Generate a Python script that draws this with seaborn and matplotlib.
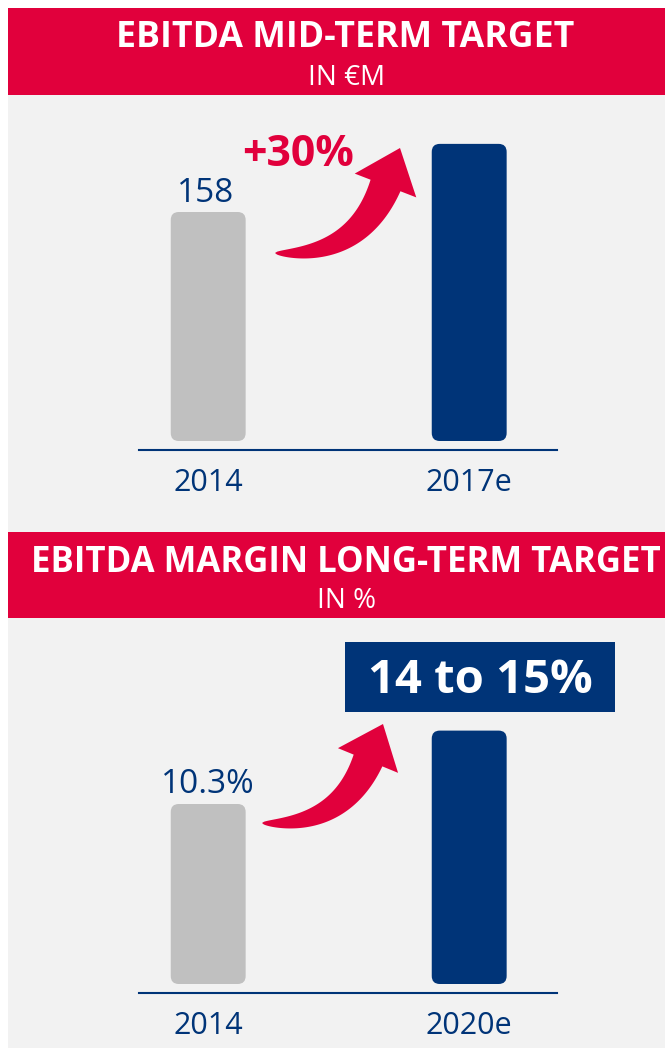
import numpy as np
import matplotlib.pyplot as plt
import seaborn as sns
from matplotlib.patches import FancyBboxPatch, Rectangle, Polygon

# --- data -------------------------------------------------------------
years_mid = ["2014", "2017e"]
ebitda_mid = [158, 205]            # EUR m (2017e = 2014 +30%)
years_long = ["2014", "2020e"]
margin_long = [10.3, 14.5]         # % (target 14 to 15%)
value_label_mid = "158"
value_label_long = "10.3%"
growth_label = "+30%"
target_label = "14 to 15%"
titles = ["EBITDA MID-TERM TARGET", "EBITDA MARGIN LONG-TERM TARGET"]
subtitles = ["IN €M", "IN %"]

RED = "#E1003C"
NAVY = "#003478"
GRAY = "#C0C0C0"
BG = "#F2F2F2"

W, H = 665, 1048

sns.set_style("white")
plt.rcParams["font.family"] = ["Open Sans", "DejaVu Sans"]

fig = plt.figure(figsize=(W / 100, H / 100), dpi=100)
fig.patch.set_facecolor("white")

# overlay axes in pixel coordinates (bands, arrows, callouts)
bg = fig.add_axes([0, 0, 1, 1], zorder=0)
bg.set_xlim(0, W)
bg.set_ylim(H, 0)
bg.axis("off")
bg.add_patch(Rectangle((8, 95), W - 8, H - 95, color=BG, lw=0))

# (band top, band height, title baseline, subtitle baseline, title size)
bands = [(7.5, 87.5, 47, 85, 25.7), (531.5, 86, 572, 608, 25.0)]
for (top, height, ty, sy, fs), title, sub in zip(bands, titles, subtitles):
    bg.add_patch(Rectangle((8, top), W - 8, height, color=RED, lw=0))
    bg.text(345.5, ty, title, ha="center", va="baseline", color="white",
            fontsize=fs, fontweight="bold")
    bg.text(346.5, sy, sub, ha="center", va="baseline", color="white", fontsize=20)


def swoosh(ax, tail, ctrl, neck, tip, neck_w, head_w):
    """Curved arrow tapering from a sharp tail to a triangular head."""
    p0, p1, p2, tip = (np.array(v, float) for v in (tail, ctrl, neck, tip))
    t = np.linspace(0, 1, 80)[:, None]
    pts = (1 - t) ** 2 * p0 + 2 * (1 - t) * t * p1 + t ** 2 * p2
    d = 2 * (1 - t) * (p1 - p0) + 2 * t * (p2 - p1)
    n = np.column_stack([-d[:, 1], d[:, 0]])
    n /= np.linalg.norm(n, axis=1)[:, None]
    w = neck_w / 2 * t ** 0.55
    upper = pts + n * w
    lower = pts - n * w
    hd = tip - p2
    hn = np.array([-hd[1], hd[0]]) / np.linalg.norm(hd)
    poly = np.vstack([upper, p2 + hn * head_w / 2, tip, p2 - hn * head_w / 2, lower[::-1]])
    ax.add_patch(Polygon(poly, closed=True, color=RED, lw=0))


def bar_panel(rect, cats, vals, base_px, px_per_unit, label, label_off):
    left, top, right, bottom = rect
    ax = fig.add_axes([left / W, 1 - bottom / H, (right - left) / W, (bottom - top) / H], zorder=1)
    ax.patch.set_alpha(0)
    sns.barplot(x=cats, y=vals, hue=cats, palette=[GRAY, NAVY], width=0.287,
                saturation=1, linewidth=0, legend=False, ax=ax)

    c0, step = 208.2, 261.0
    ax.set_xlim((left - c0) / step, 1 + (right - c0 - step) / step)
    ax.set_ylim(-(bottom - base_px) / px_per_unit, (base_px - top) / px_per_unit)

    # rounded bars
    r = 8 / step
    m = step / px_per_unit
    for p in list(ax.patches):
        x, y, w, h = p.get_x(), p.get_y(), p.get_width(), p.get_height()
        fc = p.get_facecolor()
        p.remove()
        ax.add_patch(FancyBboxPatch((x, y), w, h, boxstyle=f"round,pad=0,rounding_size={r}",
                                    mutation_aspect=m, fc=fc, lw=0))

    sns.despine(ax=ax, left=True)
    ax.spines["bottom"].set_color(NAVY)
    ax.spines["bottom"].set_linewidth(1.5)
    ax.set_yticks([])
    ax.set_xlabel("")
    ax.set_ylabel("")
    ax.tick_params(axis="x", length=0, pad=13, labelsize=22, labelcolor=NAVY)

    ax.annotate(label, xy=(0, vals[0]), xytext=label_off, textcoords="offset points",
                ha="center", va="baseline", fontsize=24, color=NAVY)
    return ax


# --- panel 1: EBITDA mid-term ---------------------------------------------
bar_panel((139, 120, 557, 450), years_mid, ebitda_mid, 441, 229 / 158, value_label_mid, (-2, 7.2))
bg.text(298, 166.5, growth_label, ha="center", va="baseline", color=RED,
        fontsize=30.8, fontweight="bold")
swoosh(bg, tail=(275, 253), ctrl=(357.5, 258), neck=(385.5, 185.5), tip=(400, 148),
       neck_w=32, head_w=66)

# --- panel 2: EBITDA margin long-term ---------------------------------------
bar_panel((139, 700, 557, 992.5), years_long, margin_long, 984, 180 / 10.3, value_label_long, (0, 7.9))
bg.add_patch(Rectangle((345, 642), 270, 70, color=NAVY, lw=0))
bg.text(480.5, 693, target_label, ha="center", va="baseline", color="white",
        fontsize=34, fontweight="bold")
swoosh(bg, tail=(262, 823), ctrl=(340.3, 828), neck=(368, 760.5), tip=(383, 724),
       neck_w=31, head_w=65)

fig.savefig("out.png", dpi=100)
plt.close(fig)
